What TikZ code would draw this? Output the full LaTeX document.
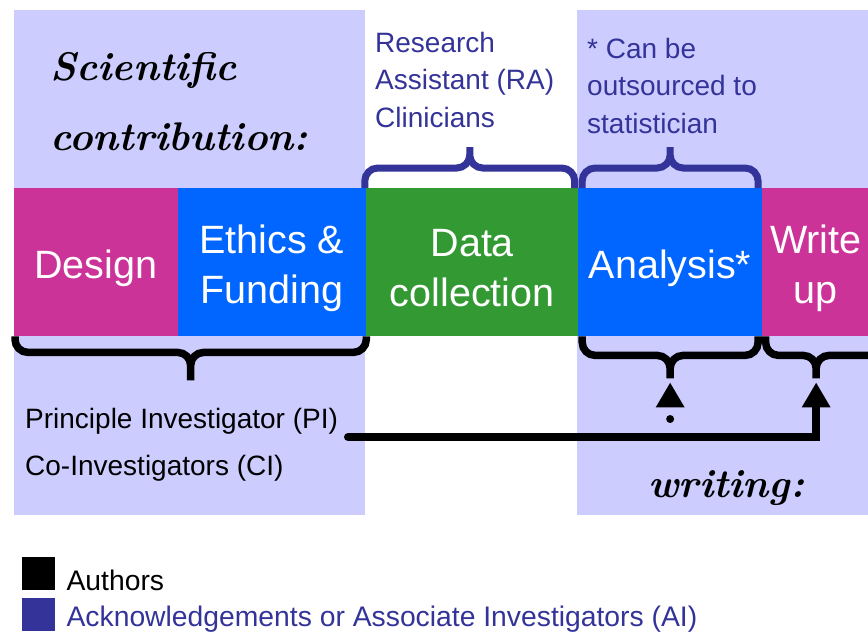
\documentclass[tikz,border=0pt]{standalone}
\usepackage{fontspec}
\newfontfamily\arial{Liberation Sans}
\usetikzlibrary{positioning,calc,arrows.meta}

\definecolor{stagepink}{HTML}{CC3399}
\definecolor{stageblue}{HTML}{0066FF}
\definecolor{stagegreen}{HTML}{339933}
\definecolor{aibg}{HTML}{CCCCFF}
\definecolor{ainavy}{HTML}{333399}

\tikzset{
  stage/.style={rectangle, inner sep=0pt, minimum height=148pt},
  stagetext/.style={text=white, align=center, yshift=-6pt, font=\arial\fontsize{39.5}{50}\selectfont},
  aitext/.style={text=ainavy, align=left, inner sep=0pt, font=\arial\fontsize{28}{37.5}\selectfont},
  hand/.style={inner sep=0pt, anchor=base west, font=\rmfamily\bfseries\itshape\fontsize{40}{50}\selectfont},
  key/.style={rectangle, inner sep=0pt, minimum size=33pt, anchor=north west},
  keytext/.style={inner sep=0pt, anchor=base west, font=\arial\fontsize{28.3}{34}\selectfont},
  % curly bracket: #1 = height of the bar, #2 = height of the tip, #3 = where the tip sits
  curly/.style n args={3}{rounded corners=13pt, to path={
      (\tikztostart) -- ([yshift=#1]\tikztostart)
        -- ([yshift=#1]$(\tikztostart)!#3!(\tikztotarget)$)
        -- ([yshift=#2]$(\tikztostart)!#3!(\tikztotarget)$)
      (\tikztotarget) -- ([yshift=#1]\tikztotarget)
        -- ([yshift=#1]$(\tikztostart)!#3!(\tikztotarget)$)
        -- ([yshift=#2]$(\tikztostart)!#3!(\tikztotarget)$)}},
  aibrace/.style={draw=ainavy, line width=7pt},
  authbrace/.style={draw=black, line width=7.5pt},
  author/.style={line width=8pt, line cap=round, shorten >=4pt, -{Triangle[width=27pt,length=25pt]}},
}

\begin{document}
\begin{tikzpicture}[x=1pt,y=-1pt]
\useasboundingbox (0,0) rectangle (868,632);
\clip (0,0) rectangle (868,632);

% shaded areas
\fill[aibg] (14,10) rectangle (365,515);
\fill[aibg] (577,10) rectangle (868,515);

% stages of the study
\node[stage, fill=stagepink, minimum width=163.5pt, anchor=north west] (design) at (14,188) {};
\node[stage, fill=stageblue, minimum width=188.5pt, right=-0.5pt of design] (ethics) {};
\node[stage, fill=stagegreen, minimum width=212.5pt, right=-0.5pt of ethics] (collect) {};
\node[stage, fill=stageblue, minimum width=183.5pt, right=-0.5pt of collect] (analysis) {};
\node[stage, fill=stagepink, minimum width=110pt, right=-0.5pt of analysis] (writeup) {};

\node[stagetext] (tdesign) at (design) {Design};
\node[stagetext] (tethics) at (ethics) {Ethics \&\\Funding};
\node[stagetext] (tcollect) at (collect) {Data\\collection};
\node[stagetext] (tanalysis) at (analysis) {Analysis*};
\node[stagetext, xshift=-1pt] (twriteup) at (writeup) {Write\\up};

% braces above
\draw[aibrace, curly={20pt}{41pt}{.5}] ([xshift=-1pt]collect.north west) to ([xshift=-4pt]collect.north east);
\draw[aibrace, curly={20pt}{41pt}{.5}] ([xshift=4pt]analysis.north west) to ([xshift=-4pt]analysis.north east);

% braces below
\draw[authbrace, curly={-16pt}{-44pt}{.5}] ([xshift=1pt]design.south west) to (ethics.south east);
\draw[authbrace, curly={-19pt}{-42pt}{.5}] ([xshift=4pt]analysis.south west) to ([xshift=-4pt]analysis.south east);
\draw[authbrace, curly={-19pt}{-42pt}{.4}] ([xshift=4pt]writeup.south west) to ([xshift=20pt]writeup.south east);

\coordinate (atip) at ([yshift=-42pt]$(analysis.south west)!.5!(analysis.south east)$);
\coordinate (wtip) at ([yshift=-42pt]$([xshift=4pt]writeup.south west)!.4!([xshift=20pt]writeup.south east)$);

% who does what
\node[aitext, anchor=north west] (ra) at (375,32) {Research\\Assistant (RA)\\Clinicians};
\node[aitext, anchor=north west] (stat) at (587,38) {* Can be\\outsourced to\\statistician};
\node[inner sep=0pt, anchor=north west, align=left, font=\arial\fontsize{28}{47}\selectfont] (pi) at (25,408)
  {Principle Investigator (PI)\\Co-Investigators (CI)};

\node[hand] (sci) at (50,80) {Scientific};
\node[hand] (contrib) at (50,150) {contribution:};
\node[hand] (writing) at (648,497) {writing:};

% authors also write
\coordinate (authline) at (348,437);
\draw[author] (authline) -| (wtip);
\draw[author, dash pattern=on 0pt off 18pt] (authline -| atip) -- (atip);

% legend
\node[key, fill=black] (kauth) at (22,557) {};
\node[keytext] (lauth) at ([xshift=11pt]kauth.south east) {Authors};
\node[key, fill=ainavy] (kack) at (22,598) {};
\node[keytext, text=ainavy] (lack) at ([xshift=11pt,yshift=5pt]kack.south east) {Acknowledgements or Associate Investigators (AI)};
\end{tikzpicture}
\end{document}
